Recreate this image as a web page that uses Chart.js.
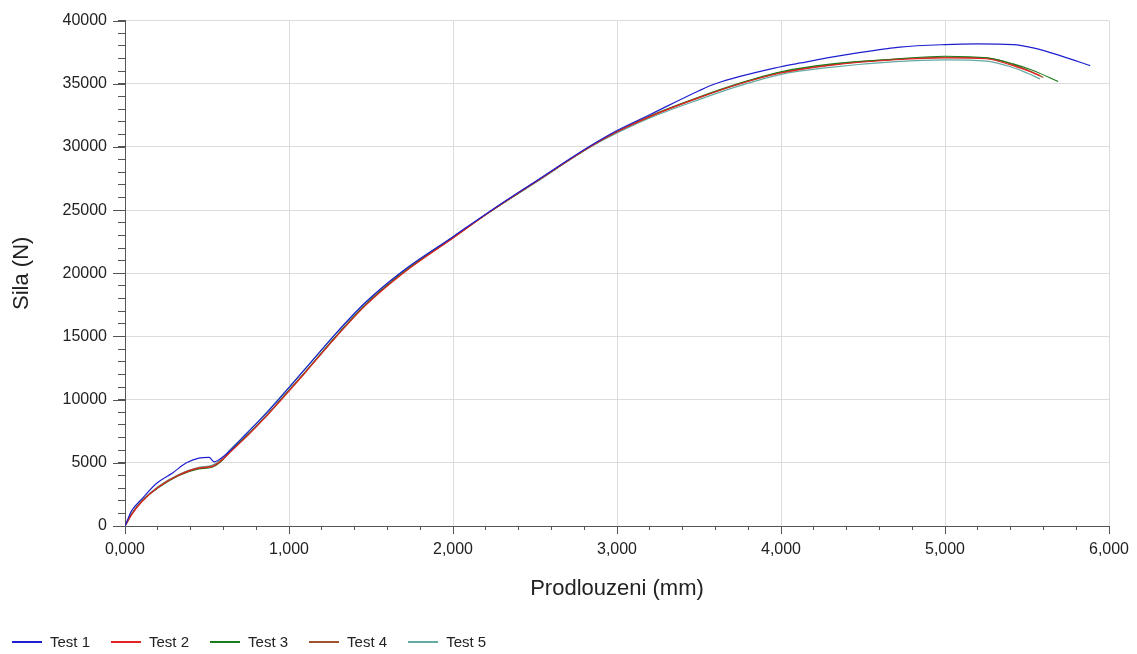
<!DOCTYPE html>
<html>
<head>
<meta charset="utf-8">
<script src="https://cdn.jsdelivr.net/npm/chart.js@4/dist/chart.umd.min.js"></script>
<style>
  html, body { margin: 0; padding: 0; background: #fff; }
  #wrap { width: 1137px; height: 654px; position: relative; }
  #legend { position: absolute; left: 12px; top: 633px; display: flex; font-family: 'Liberation Sans', Arial, sans-serif; font-size: 15px; color: #222; }
  #legend .item { display: flex; align-items: center; margin-right: 21px; }
  #legend .swatch { display: inline-block; width: 30px; height: 2px; margin-right: 8px; }
</style>
</head>
<body>
<div id="wrap"><canvas id="tahChart"></canvas><div id="legend"></div></div>
<script>
    // data (prodlouzeni v mm * 1000, sila v N)
    const seriesNames = ['Test 1', 'Test 2', 'Test 3', 'Test 4', 'Test 5'];
    const seriesColors = ['#1f1fd0', '#e32222', '#1c7a1c', '#a0522d', '#62aaa3'];

    const test1X = [0, 40, 100, 195, 290, 372, 450, 513, 543, 600, 650, 740, 860, 950, 1100, 1286, 1470, 1690, 2000, 2241, 2500, 2833, 3000, 3200, 3500, 3600, 4000, 4120, 4400, 4725, 5000, 5200, 5415, 5537, 5702, 5885];
    const test1Y = [0, 1200, 2100, 3400, 4200, 4980, 5370, 5430, 5080, 5500, 6100, 7300, 8900, 10200, 12450, 15250, 17750, 20150, 22900, 25050, 27250, 30050, 31300, 32550, 34450, 35000, 36350, 36650, 37300, 37900, 38100, 38150, 38100, 37840, 37230, 36440];

    const test2X = [0, 40, 100, 200, 330, 450, 530, 580, 650, 740, 860, 950, 1100, 1286, 1470, 1690, 2000, 2241, 2500, 2833, 3000, 3200, 3500, 3750, 4000, 4300, 4700, 5000, 5250, 5400, 5500, 5580];
    const test2Y = [0, 900, 1900, 3050, 4030, 4580, 4700, 5100, 5950, 7050, 8650, 9950, 12150, 14950, 17500, 19950, 22800, 25000, 27200, 30000, 31200, 32400, 33900, 35000, 35850, 36450, 36900, 37050, 36980, 36500, 36050, 35650];

    const test3X = [0, 40, 100, 200, 330, 450, 530, 580, 650, 740, 860, 950, 1100, 1286, 1470, 1690, 2000, 2241, 2500, 2833, 3000, 3200, 3500, 3750, 4000, 4300, 4700, 5000, 5256, 5415, 5537, 5690];
    const test3Y = [0, 950, 1950, 3000, 4000, 4520, 4650, 5050, 6000, 7100, 8700, 10000, 12200, 15000, 17550, 20000, 22850, 25000, 27200, 30000, 31200, 32450, 33950, 35050, 35950, 36550, 36950, 37180, 37050, 36570, 36050, 35180];

    const test4X = [0, 40, 100, 200, 330, 450, 530, 580, 650, 740, 860, 950, 1100, 1286, 1470, 1690, 2000, 2241, 2500, 2833, 3000, 3200, 3500, 3750, 4000, 4300, 4700, 5000, 5250, 5400, 5500, 5600];
    const test4Y = [0, 900, 1900, 3050, 4050, 4600, 4720, 5100, 6000, 7100, 8700, 10000, 12200, 15000, 17550, 20000, 22800, 25000, 27200, 30000, 31200, 32400, 33900, 35000, 35900, 36500, 36950, 37100, 37050, 36600, 36100, 35500];

    const test5X = [0, 40, 100, 200, 330, 450, 530, 580, 650, 740, 860, 950, 1100, 1286, 1470, 1690, 2000, 2241, 2500, 2833, 3000, 3200, 3500, 3750, 4000, 4300, 4700, 5000, 5250, 5400, 5500, 5580];
    const test5Y = [0, 950, 1950, 3100, 4100, 4650, 4800, 5200, 6150, 7300, 8950, 10250, 12450, 15200, 17700, 20100, 22850, 25000, 27150, 29950, 31100, 32300, 33750, 34850, 35750, 36300, 36750, 36890, 36800, 36350, 35850, 35390];

    const allX = [test1X, test2X, test3X, test4X, test5X];
    const allY = [test1Y, test2Y, test3Y, test4Y, test5Y];

    const datasets = seriesNames.map((name, i) => ({
        label: name,
        data: allX[i].map((x, j) => ({ x: x, y: allY[i][j] })),
        borderColor: seriesColors[i],
        backgroundColor: seriesColors[i],
        borderWidth: 1.2,
        pointRadius: 0,
        cubicInterpolationMode: 'monotone',
        fill: false,
        order: i
    }));

    // legenda pod grafem
    const legendEl = document.getElementById('legend');
    seriesNames.forEach((name, i) => {
        const item = document.createElement('div');
        item.className = 'item';
        const sw = document.createElement('span');
        sw.className = 'swatch';
        sw.style.backgroundColor = seriesColors[i];
        const txt = document.createElement('span');
        txt.textContent = name;
        item.appendChild(sw);
        item.appendChild(txt);
        legendEl.appendChild(item);
    });

    // delsi carky u hlavnich dilku os
    const majorTicks = {
        id: 'majorTicks',
        afterDraw(chart) {
            const c = chart.ctx;
            const xs = chart.scales.x, ys = chart.scales.y;
            c.save();
            c.strokeStyle = '#555';
            c.lineWidth = 1;
            c.beginPath();
            xs.ticks.forEach(t => {
                if (Math.round(t.value) % 1000 !== 0) return;
                const px = Math.round(xs.getPixelForValue(t.value)) + 0.5;
                c.moveTo(px, ys.bottom);
                c.lineTo(px, ys.bottom + 8);
            });
            ys.ticks.forEach(t => {
                if (Math.round(t.value) % 5000 !== 0) return;
                const py = Math.round(ys.getPixelForValue(t.value)) + 0.5;
                c.moveTo(xs.left - 12, py);
                c.lineTo(xs.left, py);
            });
            c.stroke();
            c.restore();
        }
    };

    const fontName = "'Liberation Sans', Arial, sans-serif";

    const ctx = document.getElementById('tahChart').getContext('2d');
    const tahChart = new Chart(ctx, {
        type: 'line',
        data: { datasets: datasets },
        plugins: [majorTicks],
        options: {
            responsive: true,
            maintainAspectRatio: false,
            animation: false,
            layout: { padding: { left: 5, right: 28, top: 20, bottom: 48 } },
            plugins: {
                legend: { display: false },
                tooltip: { enabled: false }
            },
            scales: {
                x: {
                    type: 'linear',
                    min: 0,
                    max: 6000,
                    afterFit: scale => {
                        scale.height = 80;
                        scale.paddingRight = 0;
                        scale.paddingLeft = 0;
                    },
                    title: {
                        display: true,
                        text: 'Prodlouzeni (mm)',
                        color: '#222',
                        font: { family: fontName, size: 22 },
                        padding: { top: 15, bottom: 4 }
                    },
                    ticks: {
                        stepSize: 200,
                        autoSkip: false,
                        maxRotation: 0,
                        color: '#222',
                        font: { family: fontName, size: 16 },
                        padding: 10,
                        callback: v => Math.round(v) % 1000 === 0 ? (Math.round(v) / 1000).toFixed(3).replace('.', ',') : ''
                    },
                    grid: {
                        color: c => (c.tick && Math.round(c.tick.value) % 1000 === 0) ? '#dcdcdc' : 'rgba(0,0,0,0)',
                        tickColor: '#555',
                        tickLength: 4
                    },
                    border: { color: '#555' }
                },
                y: {
                    min: 0,
                    max: 40000,
                    afterFit: scale => { scale.width = 120; },
                    title: {
                        display: true,
                        text: 'Sila (N)',
                        color: '#222',
                        font: { family: fontName, size: 22 }
                    },
                    ticks: {
                        stepSize: 1000,
                        autoSkip: false,
                        color: '#222',
                        font: { family: fontName, size: 16 },
                        padding: 11,
                        callback: v => Math.round(v) % 5000 === 0 ? String(Math.round(v)) : ''
                    },
                    grid: {
                        color: c => (c.tick && Math.round(c.tick.value) % 5000 === 0) ? '#dcdcdc' : 'rgba(0,0,0,0)',
                        tickColor: '#555',
                        tickLength: 7
                    },
                    border: { color: '#555' }
                }
            }
        }
    });
</script>
</body>
</html>
